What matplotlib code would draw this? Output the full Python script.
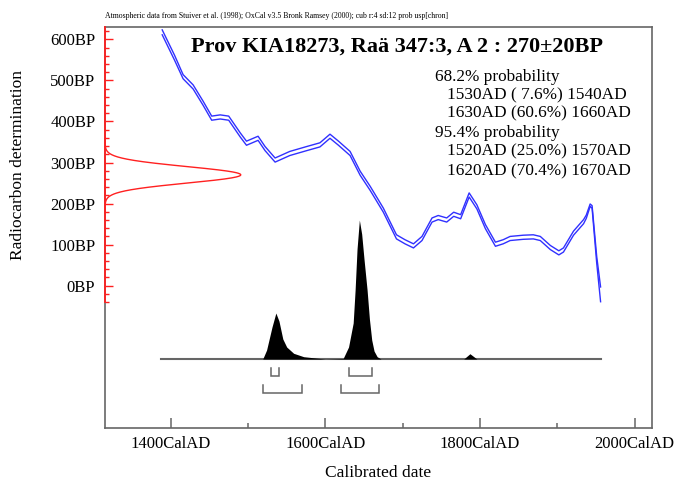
import matplotlib
matplotlib.use('Agg')
import matplotlib.pyplot as plt
import numpy as np
from matplotlib.ticker import FixedLocator

plt.rcParams['font.family'] = ['Liberation Serif', 'DejaVu Serif']

# ---------------- data ----------------
header = ("Atmospheric data from Stuiver et al. (1998); OxCal v3.5 Bronk Ramsey (2000); "
          "cub r:4 sd:12 prob usp[chron]")
title = "Prov KIA18273, Raä 347:3, A 2 : 270±20BP"
c14_date = 270
c14_error = 20

# calibration curve (mean BP and 1-sigma)
curve_years = [1389, 1405, 1416, 1429, 1442, 1453, 1464, 1475, 1490, 1498, 1513, 1522, 1535,
               1554, 1576, 1593, 1606, 1617, 1632, 1645, 1658, 1667, 1675, 1692, 1703,
               1714, 1725, 1738, 1746, 1757, 1766, 1775, 1786, 1796, 1807, 1820, 1830,
               1839, 1856, 1869, 1878, 1891, 1902, 1908, 1921, 1934, 1937.5, 1942.5,
               1945, 1951, 1956]
curve_bp = [617, 555, 509, 484, 444, 408, 411, 408, 367, 347, 359, 334, 306,
            322, 334, 343, 364, 347, 322, 274, 237, 209, 184, 119, 107,
            97, 115, 160, 166, 160, 174, 168, 221, 192, 144, 101, 107,
            115, 118, 119, 115, 93, 80, 87, 128, 156, 168, 196,
            192, 63, -21]
curve_sigma = [6, 6, 5, 5, 5, 5, 5, 5, 5, 5, 5, 5, 5,
               5, 5, 5, 5, 5, 5, 5, 5, 5, 5, 5, 5,
               5, 5, 5, 5, 5, 5, 5, 5, 5, 5, 5, 5,
               5, 5, 5, 5, 5, 5, 5, 5, 5, 4, 3,
               3, 8, 18]

# calibrated probability distribution (relative density)
dist_years = [1388, 1519, 1524, 1531, 1536, 1540, 1545, 1550, 1559, 1572, 1591, 1600,
              1623, 1630, 1636, 1638.5, 1641, 1644, 1647, 1650, 1654, 1657, 1660, 1663,
              1667, 1672, 1779, 1787, 1796, 1957]
dist_dens = [0, 0, 9, 32, 46, 38, 20, 12, 5.7, 2.3, 0.7, 0,
             0.5, 12, 36, 69, 110, 139, 125, 100, 69, 40, 19, 8,
             2.3, 0, 0, 5.3, 0, 0]

range_68 = [(1530, 1540), (1630, 1660)]
range_95 = [(1520, 1570), (1620, 1670)]
prob_heads = ["68.2% probability", "95.4% probability"]
prob_68 = ["1530AD ( 7.6%) 1540AD", "1630AD (60.6%) 1660AD"]
prob_95 = ["1520AD (25.0%) 1570AD", "1620AD (70.4%) 1670AD"]

x_major = [1400, 1600, 1800, 2000]
x_minor = [1500, 1700, 1900]
x_labels = ["1400CalAD", "1600CalAD", "1800CalAD", "2000CalAD"]
y_major = [0, 100, 200, 300, 400, 500, 600]
y_labels = ["0BP", "100BP", "200BP", "300BP", "400BP", "500BP", "600BP"]

# ---------------- layout ----------------
W, H = 678, 483
XMIN, XMAX = 1315, 2022.5
YMIN, YMAX = -346.5, 630
GRAY = '#666666'
BLUE = '#3030ff'
RED = '#ff2020'

fig = plt.figure(figsize=(W / 100, H / 100), dpi=100)
ax = fig.add_axes([105 / W, 55 / H, 547 / W, 401 / H])
ax.set_xlim(XMIN, XMAX)
ax.set_ylim(YMIN, YMAX)

for s in ax.spines.values():
    s.set_color(GRAY)
    s.set_linewidth(1.2)

# red part of y axis
red_low = min(np.array(curve_bp) - np.array(curve_sigma))
ax.plot([XMIN, XMIN], [red_low, YMAX], color=RED, lw=1.3, clip_on=False, zorder=5)

# ticks
ax.xaxis.set_major_locator(FixedLocator(x_major))
ax.xaxis.set_minor_locator(FixedLocator(x_minor))
ax.set_xticklabels(x_labels)
ax.yaxis.set_major_locator(FixedLocator(y_major))
ax.yaxis.set_minor_locator(FixedLocator(list(range(-40, 621, 20))))
ax.set_yticklabels(y_labels)
ax.tick_params(axis='x', which='major', direction='in', length=7, width=1.1,
               color=GRAY, labelsize=12, pad=6)
ax.tick_params(axis='x', which='minor', direction='in', length=3.5, width=1.1, color=GRAY)
ax.tick_params(axis='y', which='major', direction='in', length=6, width=1.0,
               color=RED, labelsize=12, pad=7)
ax.tick_params(axis='y', which='minor', direction='in', length=3.2, width=1.0, color=RED)
ax.tick_params(top=False, right=False)

ax.set_xlabel("Calibrated date", fontsize=12.5, labelpad=9)
fig.text(18.5 / W, 1 - 165 / H, "Radiocarbon determination", fontsize=12.5,
         rotation=90, ha='center', va='center')

# radiocarbon date (red Gaussian)
peak_w = 175.6
bp = np.linspace(c14_date - 4.5 * c14_error, c14_date + 4.5 * c14_error, 400)
g = np.exp(-0.5 * ((bp - c14_date) / c14_error) ** 2)
ax.plot(XMIN + peak_w * g, bp, color=RED, lw=1.0, zorder=4)

# calibration curve band
cy = np.array(curve_years, dtype=float)
cb = np.array(curve_bp, dtype=float)
cs = np.array(curve_sigma, dtype=float)
ax.plot(cy, cb + cs, color=BLUE, lw=1.0)
ax.plot(cy, cb - cs, color=BLUE, lw=1.0)

# calibrated distribution
base = -178.5
dscale = 338.5
dy = np.array(dist_years, dtype=float)
dd = np.array(dist_dens, dtype=float) / max(dist_dens) * dscale
ax.fill_between(dy, base, base + dd, color='black', lw=0, zorder=3)
ax.plot([dist_years[0], dist_years[-1]], [base, base], color=GRAY, lw=1.5, zorder=2)

# range brackets
def bracket(x1, x2, top, bottom):
    ax.plot([x1, x1, x2, x2], [top, bottom, bottom, top], color=GRAY, lw=1.1,
            solid_joinstyle='miter')

for a, b in range_68:
    bracket(a, b, -199.5, -219)
for a, b in range_95:
    bracket(a, b, -241.6, -260.3)

# texts
fig.text(105 / W, 1 - 16.5 / H, header, fontsize=5.6, ha='left', va='center')
fig.text(191 / W, 1 - 47 / H, title, fontsize=16, fontweight='bold', ha='left', va='center')
line_y = [76.7, 95, 113.3, 132.7, 151.7, 171.7]
texts = [(prob_heads[0], 0), (prob_68[0], 1), (prob_68[1], 1),
         (prob_heads[1], 0), (prob_95[0], 1), (prob_95[1], 1)]
for (t, ind), yy in zip(texts, line_y):
    x0 = 435 if ind == 0 else 447
    fig.text(x0 / W, 1 - yy / H, t, fontsize=12.4, ha='left', va='center')

fig.savefig('out.png', dpi=100)
